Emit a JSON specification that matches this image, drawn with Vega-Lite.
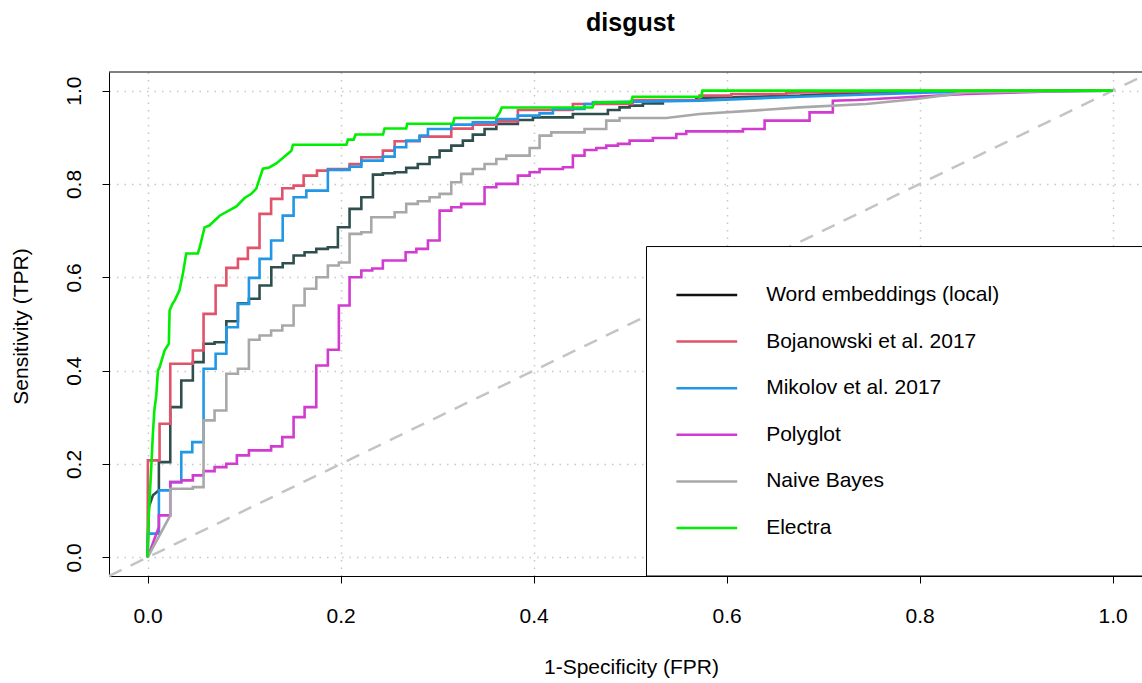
{
"$schema": "https://vega.github.io/schema/vega-lite/v6.json",
"autosize": {"type": "none"},
"width": 1033,
"height": 504,
"padding": {"left": 109, "top": 72, "right": 0, "bottom": 107},
"background": "white",
"title": {"text": "disgust", "fontSize": 25, "fontWeight": "bold", "anchor": "middle", "offset": 16, "baseline": "alphabetic", "dx": 5, "color": "black", "font": "Liberation Sans", "frame": "group"},
"datasets": {
"roc": [
{"model":"Word embeddings (local)","fpr":0,"tpr":0},{"model":"Word embeddings (local)","fpr":0.0013,"tpr":0.1077},{"model":"Word embeddings (local)","fpr":0.0055,"tpr":0.1328},{"model":"Word embeddings (local)","fpr":0.0117,"tpr":0.1435},{"model":"Word embeddings (local)","fpr":0.0117,"tpr":0.2041},{"model":"Word embeddings (local)","fpr":0.0235,"tpr":0.2041},{"model":"Word embeddings (local)","fpr":0.0235,"tpr":0.3218},{"model":"Word embeddings (local)","fpr":0.0349,"tpr":0.3218},{"model":"Word embeddings (local)","fpr":0.0349,"tpr":0.379},{"model":"Word embeddings (local)","fpr":0.0469,"tpr":0.379},{"model":"Word embeddings (local)","fpr":0.0469,"tpr":0.4182},{"model":"Word embeddings (local)","fpr":0.058,"tpr":0.4182},{"model":"Word embeddings (local)","fpr":0.058,"tpr":0.4576},{"model":"Word embeddings (local)","fpr":0.0694,"tpr":0.4576},{"model":"Word embeddings (local)","fpr":0.0694,"tpr":0.461},{"model":"Word embeddings (local)","fpr":0.0816,"tpr":0.461},{"model":"Word embeddings (local)","fpr":0.0816,"tpr":0.506},{"model":"Word embeddings (local)","fpr":0.0936,"tpr":0.506},{"model":"Word embeddings (local)","fpr":0.0936,"tpr":0.5445},{"model":"Word embeddings (local)","fpr":0.105,"tpr":0.5445},{"model":"Word embeddings (local)","fpr":0.105,"tpr":0.554},{"model":"Word embeddings (local)","fpr":0.116,"tpr":0.554},{"model":"Word embeddings (local)","fpr":0.116,"tpr":0.5824},{"model":"Word embeddings (local)","fpr":0.1282,"tpr":0.5824},{"model":"Word embeddings (local)","fpr":0.1282,"tpr":0.6216},{"model":"Word embeddings (local)","fpr":0.14,"tpr":0.6216},{"model":"Word embeddings (local)","fpr":0.14,"tpr":0.6302},{"model":"Word embeddings (local)","fpr":0.1513,"tpr":0.6302},{"model":"Word embeddings (local)","fpr":0.1513,"tpr":0.6467},{"model":"Word embeddings (local)","fpr":0.1627,"tpr":0.6467},{"model":"Word embeddings (local)","fpr":0.1627,"tpr":0.6537},{"model":"Word embeddings (local)","fpr":0.1748,"tpr":0.6537},{"model":"Word embeddings (local)","fpr":0.1748,"tpr":0.661},{"model":"Word embeddings (local)","fpr":0.1868,"tpr":0.661},{"model":"Word embeddings (local)","fpr":0.1868,"tpr":0.6645},{"model":"Word embeddings (local)","fpr":0.1972,"tpr":0.6645},{"model":"Word embeddings (local)","fpr":0.1972,"tpr":0.7073},{"model":"Word embeddings (local)","fpr":0.2093,"tpr":0.7073},{"model":"Word embeddings (local)","fpr":0.2093,"tpr":0.7467},{"model":"Word embeddings (local)","fpr":0.2215,"tpr":0.7467},{"model":"Word embeddings (local)","fpr":0.2215,"tpr":0.7715},{"model":"Word embeddings (local)","fpr":0.2335,"tpr":0.7715},{"model":"Word embeddings (local)","fpr":0.2335,"tpr":0.8201},{"model":"Word embeddings (local)","fpr":0.2438,"tpr":0.8201},{"model":"Word embeddings (local)","fpr":0.2438,"tpr":0.8229},{"model":"Word embeddings (local)","fpr":0.256,"tpr":0.8229},{"model":"Word embeddings (local)","fpr":0.256,"tpr":0.8251},{"model":"Word embeddings (local)","fpr":0.268,"tpr":0.8251},{"model":"Word embeddings (local)","fpr":0.268,"tpr":0.8345},{"model":"Word embeddings (local)","fpr":0.28,"tpr":0.8345},{"model":"Word embeddings (local)","fpr":0.28,"tpr":0.843},{"model":"Word embeddings (local)","fpr":0.2922,"tpr":0.843},{"model":"Word embeddings (local)","fpr":0.2922,"tpr":0.8572},{"model":"Word embeddings (local)","fpr":0.3026,"tpr":0.8572},{"model":"Word embeddings (local)","fpr":0.3026,"tpr":0.8715},{"model":"Word embeddings (local)","fpr":0.3147,"tpr":0.8715},{"model":"Word embeddings (local)","fpr":0.3147,"tpr":0.8822},{"model":"Word embeddings (local)","fpr":0.3267,"tpr":0.8822},{"model":"Word embeddings (local)","fpr":0.3267,"tpr":0.893},{"model":"Word embeddings (local)","fpr":0.337,"tpr":0.893},{"model":"Word embeddings (local)","fpr":0.337,"tpr":0.9058},{"model":"Word embeddings (local)","fpr":0.3492,"tpr":0.9058},{"model":"Word embeddings (local)","fpr":0.3492,"tpr":0.918},{"model":"Word embeddings (local)","fpr":0.3614,"tpr":0.918},{"model":"Word embeddings (local)","fpr":0.3614,"tpr":0.9287},{"model":"Word embeddings (local)","fpr":0.3837,"tpr":0.9287},{"model":"Word embeddings (local)","fpr":0.3837,"tpr":0.9372},{"model":"Word embeddings (local)","fpr":0.3993,"tpr":0.9372},{"model":"Word embeddings (local)","fpr":0.3993,"tpr":0.9428},{"model":"Word embeddings (local)","fpr":0.4407,"tpr":0.9428},{"model":"Word embeddings (local)","fpr":0.4407,"tpr":0.9501},{"model":"Word embeddings (local)","fpr":0.477,"tpr":0.9501},{"model":"Word embeddings (local)","fpr":0.477,"tpr":0.9587},{"model":"Word embeddings (local)","fpr":0.4891,"tpr":0.9587},{"model":"Word embeddings (local)","fpr":0.4891,"tpr":0.9642},{"model":"Word embeddings (local)","fpr":0.4995,"tpr":0.9642},{"model":"Word embeddings (local)","fpr":0.4995,"tpr":0.9679},{"model":"Word embeddings (local)","fpr":0.5133,"tpr":0.9679},{"model":"Word embeddings (local)","fpr":0.5133,"tpr":0.9728},{"model":"Word embeddings (local)","fpr":0.534,"tpr":0.9728},{"model":"Word embeddings (local)","fpr":0.534,"tpr":0.9786},{"model":"Word embeddings (local)","fpr":0.5686,"tpr":0.9786},{"model":"Word embeddings (local)","fpr":0.5686,"tpr":0.9844},{"model":"Word embeddings (local)","fpr":0.6756,"tpr":0.9893},{"model":"Word embeddings (local)","fpr":0.7585,"tpr":0.9979},{"model":"Word embeddings (local)","fpr":1,"tpr":1},
{"model":"Bojanowski et al. 2017","fpr":0,"tpr":0},{"model":"Bojanowski et al. 2017","fpr":0.0003,"tpr":0.2077},{"model":"Bojanowski et al. 2017","fpr":0.0124,"tpr":0.2077},{"model":"Bojanowski et al. 2017","fpr":0.0124,"tpr":0.2863},{"model":"Bojanowski et al. 2017","fpr":0.0235,"tpr":0.2863},{"model":"Bojanowski et al. 2017","fpr":0.0235,"tpr":0.4148},{"model":"Bojanowski et al. 2017","fpr":0.0469,"tpr":0.4148},{"model":"Bojanowski et al. 2017","fpr":0.0469,"tpr":0.4433},{"model":"Bojanowski et al. 2017","fpr":0.058,"tpr":0.4433},{"model":"Bojanowski et al. 2017","fpr":0.058,"tpr":0.5218},{"model":"Bojanowski et al. 2017","fpr":0.0705,"tpr":0.5218},{"model":"Bojanowski et al. 2017","fpr":0.0705,"tpr":0.5824},{"model":"Bojanowski et al. 2017","fpr":0.0816,"tpr":0.5824},{"model":"Bojanowski et al. 2017","fpr":0.0816,"tpr":0.6203},{"model":"Bojanowski et al. 2017","fpr":0.0936,"tpr":0.6203},{"model":"Bojanowski et al. 2017","fpr":0.0936,"tpr":0.6396},{"model":"Bojanowski et al. 2017","fpr":0.1039,"tpr":0.6396},{"model":"Bojanowski et al. 2017","fpr":0.1039,"tpr":0.6632},{"model":"Bojanowski et al. 2017","fpr":0.116,"tpr":0.6632},{"model":"Bojanowski et al. 2017","fpr":0.116,"tpr":0.736},{"model":"Bojanowski et al. 2017","fpr":0.128,"tpr":0.736},{"model":"Bojanowski et al. 2017","fpr":0.128,"tpr":0.7681},{"model":"Bojanowski et al. 2017","fpr":0.1396,"tpr":0.7681},{"model":"Bojanowski et al. 2017","fpr":0.1396,"tpr":0.7908},{"model":"Bojanowski et al. 2017","fpr":0.1513,"tpr":0.7908},{"model":"Bojanowski et al. 2017","fpr":0.1513,"tpr":0.7966},{"model":"Bojanowski et al. 2017","fpr":0.1617,"tpr":0.7966},{"model":"Bojanowski et al. 2017","fpr":0.1617,"tpr":0.818},{"model":"Bojanowski et al. 2017","fpr":0.1755,"tpr":0.818},{"model":"Bojanowski et al. 2017","fpr":0.1755,"tpr":0.8287},{"model":"Bojanowski et al. 2017","fpr":0.1868,"tpr":0.8287},{"model":"Bojanowski et al. 2017","fpr":0.1868,"tpr":0.8323},{"model":"Bojanowski et al. 2017","fpr":0.2093,"tpr":0.8323},{"model":"Bojanowski et al. 2017","fpr":0.2093,"tpr":0.843},{"model":"Bojanowski et al. 2017","fpr":0.2215,"tpr":0.843},{"model":"Bojanowski et al. 2017","fpr":0.2215,"tpr":0.8572},{"model":"Bojanowski et al. 2017","fpr":0.2438,"tpr":0.8572},{"model":"Bojanowski et al. 2017","fpr":0.2438,"tpr":0.8715},{"model":"Bojanowski et al. 2017","fpr":0.256,"tpr":0.8715},{"model":"Bojanowski et al. 2017","fpr":0.256,"tpr":0.8915},{"model":"Bojanowski et al. 2017","fpr":0.2819,"tpr":0.8915},{"model":"Bojanowski et al. 2017","fpr":0.2819,"tpr":0.9015},{"model":"Bojanowski et al. 2017","fpr":0.3147,"tpr":0.9015},{"model":"Bojanowski et al. 2017","fpr":0.3147,"tpr":0.9186},{"model":"Bojanowski et al. 2017","fpr":0.337,"tpr":0.9186},{"model":"Bojanowski et al. 2017","fpr":0.337,"tpr":0.9272},{"model":"Bojanowski et al. 2017","fpr":0.3614,"tpr":0.9272},{"model":"Bojanowski et al. 2017","fpr":0.3614,"tpr":0.9343},{"model":"Bojanowski et al. 2017","fpr":0.3837,"tpr":0.9343},{"model":"Bojanowski et al. 2017","fpr":0.3837,"tpr":0.9587},{"model":"Bojanowski et al. 2017","fpr":0.4407,"tpr":0.9587},{"model":"Bojanowski et al. 2017","fpr":0.4407,"tpr":0.9715},{"model":"Bojanowski et al. 2017","fpr":0.5026,"tpr":0.9715},{"model":"Bojanowski et al. 2017","fpr":0.5026,"tpr":0.9801},{"model":"Bojanowski et al. 2017","fpr":0.572,"tpr":0.9801},{"model":"Bojanowski et al. 2017","fpr":0.572,"tpr":0.9893},{"model":"Bojanowski et al. 2017","fpr":0.6049,"tpr":0.9893},{"model":"Bojanowski et al. 2017","fpr":0.6049,"tpr":0.9929},{"model":"Bojanowski et al. 2017","fpr":0.6619,"tpr":0.9929},{"model":"Bojanowski et al. 2017","fpr":0.6619,"tpr":0.9957},{"model":"Bojanowski et al. 2017","fpr":0.7655,"tpr":0.999},{"model":"Bojanowski et al. 2017","fpr":1,"tpr":1},
{"model":"Mikolov et al. 2017","fpr":0,"tpr":0},{"model":"Mikolov et al. 2017","fpr":0.0003,"tpr":0.0507},{"model":"Mikolov et al. 2017","fpr":0.0117,"tpr":0.0507},{"model":"Mikolov et al. 2017","fpr":0.0117,"tpr":0.1435},{"model":"Mikolov et al. 2017","fpr":0.0235,"tpr":0.1435},{"model":"Mikolov et al. 2017","fpr":0.0235,"tpr":0.1612},{"model":"Mikolov et al. 2017","fpr":0.0349,"tpr":0.1612},{"model":"Mikolov et al. 2017","fpr":0.0349,"tpr":0.2255},{"model":"Mikolov et al. 2017","fpr":0.0463,"tpr":0.2255},{"model":"Mikolov et al. 2017","fpr":0.0463,"tpr":0.2469},{"model":"Mikolov et al. 2017","fpr":0.058,"tpr":0.2469},{"model":"Mikolov et al. 2017","fpr":0.058,"tpr":0.4041},{"model":"Mikolov et al. 2017","fpr":0.0705,"tpr":0.4041},{"model":"Mikolov et al. 2017","fpr":0.0705,"tpr":0.4362},{"model":"Mikolov et al. 2017","fpr":0.0816,"tpr":0.4362},{"model":"Mikolov et al. 2017","fpr":0.0816,"tpr":0.4931},{"model":"Mikolov et al. 2017","fpr":0.0936,"tpr":0.4931},{"model":"Mikolov et al. 2017","fpr":0.0936,"tpr":0.5432},{"model":"Mikolov et al. 2017","fpr":0.105,"tpr":0.5432},{"model":"Mikolov et al. 2017","fpr":0.105,"tpr":0.5989},{"model":"Mikolov et al. 2017","fpr":0.116,"tpr":0.5989},{"model":"Mikolov et al. 2017","fpr":0.116,"tpr":0.6396},{"model":"Mikolov et al. 2017","fpr":0.128,"tpr":0.6396},{"model":"Mikolov et al. 2017","fpr":0.128,"tpr":0.6788},{"model":"Mikolov et al. 2017","fpr":0.14,"tpr":0.6788},{"model":"Mikolov et al. 2017","fpr":0.14,"tpr":0.7323},{"model":"Mikolov et al. 2017","fpr":0.1513,"tpr":0.7323},{"model":"Mikolov et al. 2017","fpr":0.1513,"tpr":0.7715},{"model":"Mikolov et al. 2017","fpr":0.1645,"tpr":0.7715},{"model":"Mikolov et al. 2017","fpr":0.1645,"tpr":0.7859},{"model":"Mikolov et al. 2017","fpr":0.1868,"tpr":0.7859},{"model":"Mikolov et al. 2017","fpr":0.1868,"tpr":0.8302},{"model":"Mikolov et al. 2017","fpr":0.2093,"tpr":0.8302},{"model":"Mikolov et al. 2017","fpr":0.2093,"tpr":0.8373},{"model":"Mikolov et al. 2017","fpr":0.2215,"tpr":0.8373},{"model":"Mikolov et al. 2017","fpr":0.2215,"tpr":0.8501},{"model":"Mikolov et al. 2017","fpr":0.2438,"tpr":0.8501},{"model":"Mikolov et al. 2017","fpr":0.2438,"tpr":0.8587},{"model":"Mikolov et al. 2017","fpr":0.256,"tpr":0.8587},{"model":"Mikolov et al. 2017","fpr":0.256,"tpr":0.8786},{"model":"Mikolov et al. 2017","fpr":0.268,"tpr":0.8786},{"model":"Mikolov et al. 2017","fpr":0.268,"tpr":0.893},{"model":"Mikolov et al. 2017","fpr":0.2819,"tpr":0.893},{"model":"Mikolov et al. 2017","fpr":0.2819,"tpr":0.9036},{"model":"Mikolov et al. 2017","fpr":0.2905,"tpr":0.9036},{"model":"Mikolov et al. 2017","fpr":0.2905,"tpr":0.918},{"model":"Mikolov et al. 2017","fpr":0.3147,"tpr":0.918},{"model":"Mikolov et al. 2017","fpr":0.3147,"tpr":0.9272},{"model":"Mikolov et al. 2017","fpr":0.337,"tpr":0.9272},{"model":"Mikolov et al. 2017","fpr":0.337,"tpr":0.9321},{"model":"Mikolov et al. 2017","fpr":0.3614,"tpr":0.9321},{"model":"Mikolov et al. 2017","fpr":0.3614,"tpr":0.9394},{"model":"Mikolov et al. 2017","fpr":0.3837,"tpr":0.9394},{"model":"Mikolov et al. 2017","fpr":0.3837,"tpr":0.9465},{"model":"Mikolov et al. 2017","fpr":0.4062,"tpr":0.9465},{"model":"Mikolov et al. 2017","fpr":0.4062,"tpr":0.9514},{"model":"Mikolov et al. 2017","fpr":0.42,"tpr":0.9514},{"model":"Mikolov et al. 2017","fpr":0.42,"tpr":0.9608},{"model":"Mikolov et al. 2017","fpr":0.4528,"tpr":0.9608},{"model":"Mikolov et al. 2017","fpr":0.4528,"tpr":0.9715},{"model":"Mikolov et al. 2017","fpr":0.4615,"tpr":0.9715},{"model":"Mikolov et al. 2017","fpr":0.4615,"tpr":0.9749},{"model":"Mikolov et al. 2017","fpr":0.572,"tpr":0.9786},{"model":"Mikolov et al. 2017","fpr":0.6756,"tpr":0.9871},{"model":"Mikolov et al. 2017","fpr":0.8135,"tpr":0.9964},{"model":"Mikolov et al. 2017","fpr":1,"tpr":1},
{"model":"Polyglot","fpr":0,"tpr":0},{"model":"Polyglot","fpr":0.0117,"tpr":0.0649},{"model":"Polyglot","fpr":0.0117,"tpr":0.0899},{"model":"Polyglot","fpr":0.0235,"tpr":0.0899},{"model":"Polyglot","fpr":0.0235,"tpr":0.1612},{"model":"Polyglot","fpr":0.0349,"tpr":0.1612},{"model":"Polyglot","fpr":0.0349,"tpr":0.1649},{"model":"Polyglot","fpr":0.0469,"tpr":0.1649},{"model":"Polyglot","fpr":0.0469,"tpr":0.1756},{"model":"Polyglot","fpr":0.058,"tpr":0.1756},{"model":"Polyglot","fpr":0.058,"tpr":0.1848},{"model":"Polyglot","fpr":0.0694,"tpr":0.1848},{"model":"Polyglot","fpr":0.0694,"tpr":0.1934},{"model":"Polyglot","fpr":0.0816,"tpr":0.1934},{"model":"Polyglot","fpr":0.0816,"tpr":0.2006},{"model":"Polyglot","fpr":0.0925,"tpr":0.2006},{"model":"Polyglot","fpr":0.0925,"tpr":0.2184},{"model":"Polyglot","fpr":0.105,"tpr":0.2184},{"model":"Polyglot","fpr":0.105,"tpr":0.2291},{"model":"Polyglot","fpr":0.128,"tpr":0.2291},{"model":"Polyglot","fpr":0.128,"tpr":0.2377},{"model":"Polyglot","fpr":0.1396,"tpr":0.2377},{"model":"Polyglot","fpr":0.1396,"tpr":0.2576},{"model":"Polyglot","fpr":0.1513,"tpr":0.2576},{"model":"Polyglot","fpr":0.1513,"tpr":0.3004},{"model":"Polyglot","fpr":0.1627,"tpr":0.3004},{"model":"Polyglot","fpr":0.1627,"tpr":0.3218},{"model":"Polyglot","fpr":0.1748,"tpr":0.3218},{"model":"Polyglot","fpr":0.1748,"tpr":0.4111},{"model":"Polyglot","fpr":0.1868,"tpr":0.4111},{"model":"Polyglot","fpr":0.1868,"tpr":0.4447},{"model":"Polyglot","fpr":0.1982,"tpr":0.4447},{"model":"Polyglot","fpr":0.1982,"tpr":0.5396},{"model":"Polyglot","fpr":0.2093,"tpr":0.5396},{"model":"Polyglot","fpr":0.2093,"tpr":0.6002},{"model":"Polyglot","fpr":0.2215,"tpr":0.6002},{"model":"Polyglot","fpr":0.2215,"tpr":0.6146},{"model":"Polyglot","fpr":0.2328,"tpr":0.6146},{"model":"Polyglot","fpr":0.2328,"tpr":0.6188},{"model":"Polyglot","fpr":0.2438,"tpr":0.6188},{"model":"Polyglot","fpr":0.2438,"tpr":0.636},{"model":"Polyglot","fpr":0.2674,"tpr":0.636},{"model":"Polyglot","fpr":0.2674,"tpr":0.6537},{"model":"Polyglot","fpr":0.2785,"tpr":0.6537},{"model":"Polyglot","fpr":0.2785,"tpr":0.661},{"model":"Polyglot","fpr":0.2905,"tpr":0.661},{"model":"Polyglot","fpr":0.2905,"tpr":0.6788},{"model":"Polyglot","fpr":0.3026,"tpr":0.6788},{"model":"Polyglot","fpr":0.3026,"tpr":0.743},{"model":"Polyglot","fpr":0.3147,"tpr":0.743},{"model":"Polyglot","fpr":0.3147,"tpr":0.7501},{"model":"Polyglot","fpr":0.325,"tpr":0.7501},{"model":"Polyglot","fpr":0.325,"tpr":0.7574},{"model":"Polyglot","fpr":0.3492,"tpr":0.7574},{"model":"Polyglot","fpr":0.3492,"tpr":0.793},{"model":"Polyglot","fpr":0.3614,"tpr":0.793},{"model":"Polyglot","fpr":0.3614,"tpr":0.8002},{"model":"Polyglot","fpr":0.3837,"tpr":0.8002},{"model":"Polyglot","fpr":0.3837,"tpr":0.818},{"model":"Polyglot","fpr":0.3959,"tpr":0.818},{"model":"Polyglot","fpr":0.3959,"tpr":0.8251},{"model":"Polyglot","fpr":0.4062,"tpr":0.8251},{"model":"Polyglot","fpr":0.4062,"tpr":0.8323},{"model":"Polyglot","fpr":0.4304,"tpr":0.8323},{"model":"Polyglot","fpr":0.4304,"tpr":0.8358},{"model":"Polyglot","fpr":0.4407,"tpr":0.8358},{"model":"Polyglot","fpr":0.4407,"tpr":0.8608},{"model":"Polyglot","fpr":0.4528,"tpr":0.8608},{"model":"Polyglot","fpr":0.4528,"tpr":0.873},{"model":"Polyglot","fpr":0.465,"tpr":0.873},{"model":"Polyglot","fpr":0.465,"tpr":0.8773},{"model":"Polyglot","fpr":0.4753,"tpr":0.8773},{"model":"Polyglot","fpr":0.4753,"tpr":0.8822},{"model":"Polyglot","fpr":0.4874,"tpr":0.8822},{"model":"Polyglot","fpr":0.4874,"tpr":0.8859},{"model":"Polyglot","fpr":0.4995,"tpr":0.8859},{"model":"Polyglot","fpr":0.4995,"tpr":0.893},{"model":"Polyglot","fpr":0.5236,"tpr":0.893},{"model":"Polyglot","fpr":0.5236,"tpr":0.8987},{"model":"Polyglot","fpr":0.5479,"tpr":0.8987},{"model":"Polyglot","fpr":0.5479,"tpr":0.9073},{"model":"Polyglot","fpr":0.5582,"tpr":0.9073},{"model":"Polyglot","fpr":0.5582,"tpr":0.9128},{"model":"Polyglot","fpr":0.6169,"tpr":0.9128},{"model":"Polyglot","fpr":0.6169,"tpr":0.918},{"model":"Polyglot","fpr":0.6394,"tpr":0.918},{"model":"Polyglot","fpr":0.6394,"tpr":0.9358},{"model":"Polyglot","fpr":0.686,"tpr":0.9358},{"model":"Polyglot","fpr":0.686,"tpr":0.9535},{"model":"Polyglot","fpr":0.7101,"tpr":0.9535},{"model":"Polyglot","fpr":0.7101,"tpr":0.9786},{"model":"Polyglot","fpr":0.7344,"tpr":0.9801},{"model":"Polyglot","fpr":0.8484,"tpr":0.9929},{"model":"Polyglot","fpr":0.9658,"tpr":1},{"model":"Polyglot","fpr":1,"tpr":1},
{"model":"Naive Bayes","fpr":0,"tpr":0},{"model":"Naive Bayes","fpr":0.0235,"tpr":0.0899},{"model":"Naive Bayes","fpr":0.0235,"tpr":0.1471},{"model":"Naive Bayes","fpr":0.0469,"tpr":0.1471},{"model":"Naive Bayes","fpr":0.0469,"tpr":0.1505},{"model":"Naive Bayes","fpr":0.058,"tpr":0.1505},{"model":"Naive Bayes","fpr":0.058,"tpr":0.2934},{"model":"Naive Bayes","fpr":0.0694,"tpr":0.2934},{"model":"Naive Bayes","fpr":0.0694,"tpr":0.3148},{"model":"Naive Bayes","fpr":0.0816,"tpr":0.3148},{"model":"Naive Bayes","fpr":0.0816,"tpr":0.3934},{"model":"Naive Bayes","fpr":0.0936,"tpr":0.3934},{"model":"Naive Bayes","fpr":0.0936,"tpr":0.4041},{"model":"Naive Bayes","fpr":0.105,"tpr":0.4041},{"model":"Naive Bayes","fpr":0.105,"tpr":0.4662},{"model":"Naive Bayes","fpr":0.116,"tpr":0.4662},{"model":"Naive Bayes","fpr":0.116,"tpr":0.4754},{"model":"Naive Bayes","fpr":0.128,"tpr":0.4754},{"model":"Naive Bayes","fpr":0.128,"tpr":0.4861},{"model":"Naive Bayes","fpr":0.1396,"tpr":0.4861},{"model":"Naive Bayes","fpr":0.1396,"tpr":0.4968},{"model":"Naive Bayes","fpr":0.1513,"tpr":0.4968},{"model":"Naive Bayes","fpr":0.1513,"tpr":0.5396},{"model":"Naive Bayes","fpr":0.1627,"tpr":0.5396},{"model":"Naive Bayes","fpr":0.1627,"tpr":0.5754},{"model":"Naive Bayes","fpr":0.1748,"tpr":0.5754},{"model":"Naive Bayes","fpr":0.1748,"tpr":0.6002},{"model":"Naive Bayes","fpr":0.1868,"tpr":0.6002},{"model":"Naive Bayes","fpr":0.1868,"tpr":0.6253},{"model":"Naive Bayes","fpr":0.1982,"tpr":0.6253},{"model":"Naive Bayes","fpr":0.1982,"tpr":0.6317},{"model":"Naive Bayes","fpr":0.2093,"tpr":0.6317},{"model":"Naive Bayes","fpr":0.2093,"tpr":0.6932},{"model":"Naive Bayes","fpr":0.2215,"tpr":0.6932},{"model":"Naive Bayes","fpr":0.2215,"tpr":0.6966},{"model":"Naive Bayes","fpr":0.2318,"tpr":0.6966},{"model":"Naive Bayes","fpr":0.2318,"tpr":0.7287},{"model":"Naive Bayes","fpr":0.256,"tpr":0.7287},{"model":"Naive Bayes","fpr":0.256,"tpr":0.7394},{"model":"Naive Bayes","fpr":0.268,"tpr":0.7394},{"model":"Naive Bayes","fpr":0.268,"tpr":0.7574},{"model":"Naive Bayes","fpr":0.28,"tpr":0.7574},{"model":"Naive Bayes","fpr":0.28,"tpr":0.763},{"model":"Naive Bayes","fpr":0.2922,"tpr":0.763},{"model":"Naive Bayes","fpr":0.2922,"tpr":0.7715},{"model":"Naive Bayes","fpr":0.3026,"tpr":0.7715},{"model":"Naive Bayes","fpr":0.3026,"tpr":0.7788},{"model":"Naive Bayes","fpr":0.3147,"tpr":0.7788},{"model":"Naive Bayes","fpr":0.3147,"tpr":0.8036},{"model":"Naive Bayes","fpr":0.325,"tpr":0.8036},{"model":"Naive Bayes","fpr":0.325,"tpr":0.8216},{"model":"Naive Bayes","fpr":0.337,"tpr":0.8216},{"model":"Naive Bayes","fpr":0.337,"tpr":0.8323},{"model":"Naive Bayes","fpr":0.3492,"tpr":0.8323},{"model":"Naive Bayes","fpr":0.3492,"tpr":0.843},{"model":"Naive Bayes","fpr":0.3614,"tpr":0.843},{"model":"Naive Bayes","fpr":0.3614,"tpr":0.8537},{"model":"Naive Bayes","fpr":0.3717,"tpr":0.8537},{"model":"Naive Bayes","fpr":0.3717,"tpr":0.8608},{"model":"Naive Bayes","fpr":0.3959,"tpr":0.8608},{"model":"Naive Bayes","fpr":0.3959,"tpr":0.8773},{"model":"Naive Bayes","fpr":0.4062,"tpr":0.8773},{"model":"Naive Bayes","fpr":0.4062,"tpr":0.9036},{"model":"Naive Bayes","fpr":0.4183,"tpr":0.9036},{"model":"Naive Bayes","fpr":0.4183,"tpr":0.9107},{"model":"Naive Bayes","fpr":0.4528,"tpr":0.9107},{"model":"Naive Bayes","fpr":0.4528,"tpr":0.918},{"model":"Naive Bayes","fpr":0.4753,"tpr":0.918},{"model":"Naive Bayes","fpr":0.4753,"tpr":0.9358},{"model":"Naive Bayes","fpr":0.4891,"tpr":0.9358},{"model":"Naive Bayes","fpr":0.4891,"tpr":0.9415},{"model":"Naive Bayes","fpr":0.5375,"tpr":0.9415},{"model":"Naive Bayes","fpr":0.572,"tpr":0.9501},{"model":"Naive Bayes","fpr":0.627,"tpr":0.9572},{"model":"Naive Bayes","fpr":0.6756,"tpr":0.9642},{"model":"Naive Bayes","fpr":0.7448,"tpr":0.9715},{"model":"Naive Bayes","fpr":0.7966,"tpr":0.9822},{"model":"Naive Bayes","fpr":0.8484,"tpr":0.9964},{"model":"Naive Bayes","fpr":1,"tpr":1},
{"model":"Electra","fpr":0,"tpr":0},{"model":"Electra","fpr":0.0005,"tpr":0.058},{"model":"Electra","fpr":0.002,"tpr":0.122},{"model":"Electra","fpr":0.004,"tpr":0.201},{"model":"Electra","fpr":0.0055,"tpr":0.266},{"model":"Electra","fpr":0.007,"tpr":0.315},{"model":"Electra","fpr":0.009,"tpr":0.347},{"model":"Electra","fpr":0.0107,"tpr":0.4},{"model":"Electra","fpr":0.0124,"tpr":0.407},{"model":"Electra","fpr":0.0176,"tpr":0.443},{"model":"Electra","fpr":0.022,"tpr":0.458},{"model":"Electra","fpr":0.0228,"tpr":0.529},{"model":"Electra","fpr":0.026,"tpr":0.544},{"model":"Electra","fpr":0.028,"tpr":0.55},{"model":"Electra","fpr":0.033,"tpr":0.572},{"model":"Electra","fpr":0.0366,"tpr":0.608},{"model":"Electra","fpr":0.04,"tpr":0.651},{"model":"Electra","fpr":0.052,"tpr":0.651},{"model":"Electra","fpr":0.054,"tpr":0.664},{"model":"Electra","fpr":0.059,"tpr":0.707},{"model":"Electra","fpr":0.064,"tpr":0.711},{"model":"Electra","fpr":0.0746,"tpr":0.732},{"model":"Electra","fpr":0.092,"tpr":0.752},{"model":"Electra","fpr":0.1005,"tpr":0.77},{"model":"Electra","fpr":0.1075,"tpr":0.779},{"model":"Electra","fpr":0.1126,"tpr":0.79},{"model":"Electra","fpr":0.1195,"tpr":0.833},{"model":"Electra","fpr":0.126,"tpr":0.8355},{"model":"Electra","fpr":0.1334,"tpr":0.844},{"model":"Electra","fpr":0.149,"tpr":0.871},{"model":"Electra","fpr":0.1506,"tpr":0.884},{"model":"Electra","fpr":0.206,"tpr":0.884},{"model":"Electra","fpr":0.2076,"tpr":0.895},{"model":"Electra","fpr":0.2135,"tpr":0.895},{"model":"Electra","fpr":0.2155,"tpr":0.906},{"model":"Electra","fpr":0.244,"tpr":0.906},{"model":"Electra","fpr":0.2456,"tpr":0.919},{"model":"Electra","fpr":0.268,"tpr":0.919},{"model":"Electra","fpr":0.269,"tpr":0.929},{"model":"Electra","fpr":0.3164,"tpr":0.929},{"model":"Electra","fpr":0.318,"tpr":0.9415},{"model":"Electra","fpr":0.361,"tpr":0.9415},{"model":"Electra","fpr":0.365,"tpr":0.9535},{"model":"Electra","fpr":0.367,"tpr":0.964},{"model":"Electra","fpr":0.461,"tpr":0.964},{"model":"Electra","fpr":0.463,"tpr":0.975},{"model":"Electra","fpr":0.501,"tpr":0.975},{"model":"Electra","fpr":0.5026,"tpr":0.987},{"model":"Electra","fpr":0.5738,"tpr":0.987},{"model":"Electra","fpr":0.575,"tpr":1},{"model":"Electra","fpr":1,"tpr":1}
],
"legend": [
{"model":"Word embeddings (local)"},{"model":"Bojanowski et al. 2017"},{"model":"Mikolov et al. 2017"},{"model":"Polyglot"},{"model":"Naive Bayes"},{"model":"Electra"}
],
"one": [{"id": 1}]
},
"layer": [
{
"layer": [
{"data": {"name": "one"},
 "mark": {"type": "rule", "color": "#C4C4C4", "strokeWidth": 2.5, "strokeDash": [14, 10]},
 "encoding": {"x": {"datum": -0.04, "type": "quantitative"}, "y": {"datum": -0.04, "type": "quantitative"}, "x2": {"datum": 1.0305}, "y2": {"datum": 1.0305}}},
{"data": {"name": "roc"},
 "mark": {"type": "line", "strokeWidth": 2.6, "clip": true},
 "encoding": {
  "x": {"field": "fpr", "type": "quantitative", "scale": {"domain": [-0.04, 1.0305], "nice": false, "zero": false},
        "axis": {"values": [0, 0.2, 0.4, 0.6, 0.8, 1], "format": ".1f", "title": "1-Specificity (FPR)", "titleX": 522, "titleY": 97, "titleAlign": "center", "titleBaseline": "alphabetic", "labelPadding": 22, "grid": true}},
  "y": {"field": "tpr", "type": "quantitative", "scale": {"domain": [-0.04, 1.04], "nice": false, "zero": false},
        "axis": {"values": [0, 0.2, 0.4, 0.6, 0.8, 1], "format": ".1f", "title": "Sensitivity (TPR)", "titleX": -81.5, "titleY": 254, "titleAlign": "center", "titleBaseline": "alphabetic", "titleAngle": 270, "labelAngle": 270, "labelAlign": "center", "labelBaseline": "alphabetic", "labelPadding": 22, "grid": true}},
  "color": {"field": "model", "type": "nominal", "legend": null,
            "scale": {"domain": ["Word embeddings (local)", "Bojanowski et al. 2017", "Mikolov et al. 2017", "Polyglot", "Naive Bayes", "Electra"],
                      "range": ["#2F4F4F", "#DF536B", "#2297E6", "#D23BD0", "#A8A8A8", "#00EE00"]}},
  "order": {"value": null}
 }},
{"data": {"name": "one"},
 "mark": {"type": "rect", "fill": "white", "stroke": "black", "strokeWidth": 1},
 "encoding": {"x": {"datum": 0.517, "type": "quantitative"}, "x2": {"datum": 1.06}, "y": {"datum": 0.666, "type": "quantitative"}, "y2": {"datum": -0.04}}},
{"data": {"name": "one"},
 "mark": {"type": "rule", "color": "black", "strokeWidth": 1},
 "encoding": {"y": {"datum": 1.04, "type": "quantitative"}}}
]
},
{
"data": {"name": "legend"},
"encoding": {
 "y": {"field": "model", "type": "nominal", "axis": null,
       "scale": {"type": "point", "domain": ["Word embeddings (local)", "Bojanowski et al. 2017", "Mikolov et al. 2017", "Polyglot", "Naive Bayes", "Electra"], "range": [223, 456], "padding": 0}}
},
"layer": [
{"mark": {"type": "rule", "strokeWidth": 2.5},
 "encoding": {"x": {"datum": 0.548, "type": "quantitative"}, "x2": {"datum": 0.611},
   "color": {"field": "model", "type": "nominal", "legend": null,
             "scale": {"domain": ["Word embeddings (local)", "Bojanowski et al. 2017", "Mikolov et al. 2017", "Polyglot", "Naive Bayes", "Electra"],
                       "range": ["#111111", "#DF536B", "#2297E6", "#D23BD0", "#A8A8A8", "#00EE00"]}}}},
{"mark": {"type": "text", "align": "left", "baseline": "middle", "fontSize": 21, "color": "black", "font": "Liberation Sans"},
 "encoding": {"x": {"datum": 0.641, "type": "quantitative"}, "text": {"field": "model"}}}
],
"resolve": {"scale": {"color": "independent"}}
}
],
"resolve": {"scale": {"y": "independent", "color": "independent"}},
"config": {
 "view": {"stroke": null},
 "font": "Liberation Sans",
 "axis": {
  "labelFontSize": 21, "labelColor": "black", "labelFont": "Liberation Sans", "labelFlush": false, "labelOverlap": false,
  "tickSize": 7, "tickColor": "black", "tickWidth": 1,
  "domainColor": "black", "domainWidth": 1,
  "gridColor": "#C8C8C8", "gridDash": [1.5, 6], "gridWidth": 1.5,
  "titleFontSize": 21, "titleFontWeight": "normal", "titleColor": "black", "titleFont": "Liberation Sans"
 }
}
}
